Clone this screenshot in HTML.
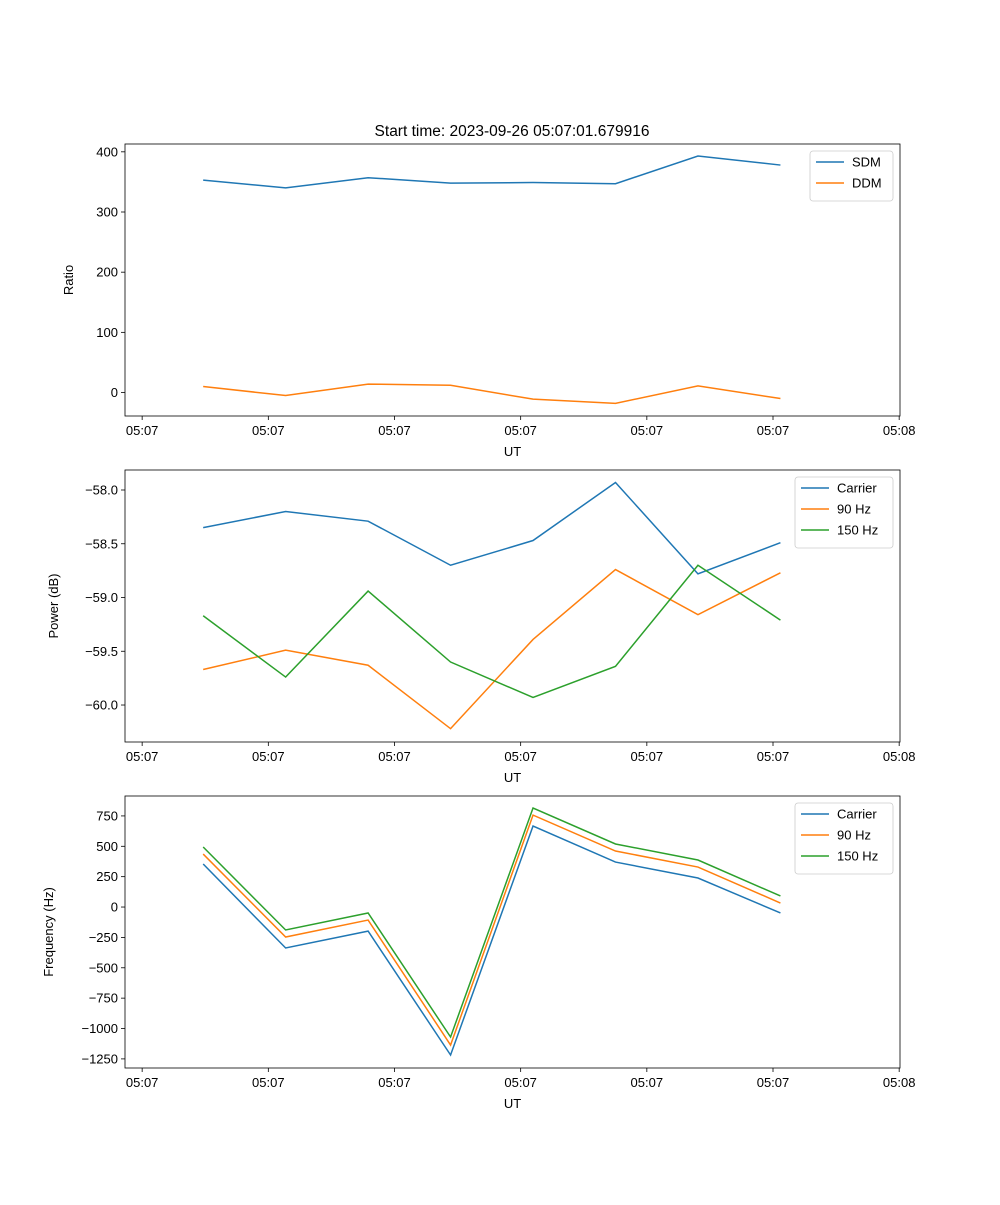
<!DOCTYPE html>
<html><head><meta charset="utf-8"><style>
body{margin:0;background:#fff}
svg text{font-family:"Liberation Sans","DejaVu Sans",sans-serif;font-size:13px;fill:#000}
</style></head><body>
<svg id="fig" width="1000" height="1200" viewBox="0 0 1000 1200" xmlns="http://www.w3.org/2000/svg">
<rect width="1000" height="1200" fill="#fff"/>
<text x="512" y="136" text-anchor="middle" style="font-size:15.5px">Start time: 2023-09-26 05:07:01.679916</text>
</svg>
<script>
const xIdx=[0,1,2,3,4,5,6,7];
const xTickLabels=["05:07","05:07","05:07","05:07","05:07","05:07","05:08"];
const xTickVals=[-0.74,0.79,2.32,3.85,5.38,6.91,8.44];
const sdm=[353,340,357,348,349,347,393,378];
const ddm=[10,-5,14,12,-11,-18,11,-10];
const pCarrier=[-58.35,-58.20,-58.29,-58.70,-58.47,-57.93,-58.78,-58.49];
const p90=[-59.67,-59.49,-59.63,-60.22,-59.39,-58.74,-59.16,-58.77];
const p150=[-59.17,-59.74,-58.94,-59.60,-59.93,-59.64,-58.70,-59.21];
const fCarrier=[354,-337,-198,-1218,667,370,239,-49];
const f90=[436,-247,-107,-1136,757,461,329,33];
const f150=[494,-189,-49,-1070,815,519,387,91];
const ticks1=[0,100,200,300,400];
const ticks2=[-60.0,-59.5,-59.0,-58.5,-58.0];
const ticks3=[-1250,-1000,-750,-500,-250,0,250,500,750];
const C=["#1f77b4","#ff7f0e","#2ca02c"];
const svg=document.getElementById('fig');
const NS="http://www.w3.org/2000/svg";
function mk(t,a,p){const e=document.createElementNS(NS,t);for(const k in a)e.setAttribute(k,a[k]);(p||svg).appendChild(e);return e;}
const L=125,R=900,xmin=-0.948,xmax=8.45;
const X=v=>L+(v-xmin)/(xmax-xmin)*(R-L);
function panel(name,top,bot,ymin,ymax,ticks,fmt,ylabel,ylOff,series,names,legW,legX){
  const g=mk('g',{});
  
  
  const Y=v=>bot-(v-ymin)/(ymax-ymin)*(bot-top);
  ticks.forEach(t=>{const y=Y(t);
    mk('line',{x1:L-4,x2:L,y1:y,y2:y,stroke:'#000','stroke-width':0.8},g);
    const tx=mk('text',{x:L-7,y:y+4.5,'text-anchor':'end'},g);tx.textContent=fmt(t);
    
    });
  xTickVals.forEach((t,i)=>{const x=X(t);
    mk('line',{x1:x,x2:x,y1:bot,y2:bot+4,stroke:'#000','stroke-width':0.8},g);
    const tx=mk('text',{x:x,y:bot+19,'text-anchor':'middle'},g);tx.textContent=xTickLabels[i];
    
    });
  const xl=mk('text',{x:(L+R)/2,y:bot+40,'text-anchor':'middle'},g);xl.textContent='UT';
  
  
  const yl=mk('text',{x:0,y:0,'text-anchor':'middle',transform:`translate(${L-ylOff},${(top+bot)/2}) rotate(-90)`},g);yl.textContent=ylabel;
  
  
  series.forEach((s,i)=>{const pl=mk('polyline',{points:s.map((v,j)=>X(xIdx[j])+','+Y(v)).join(' '),fill:'none',stroke:C[i],'stroke-width':1.5},g);
    
    });
  mk('rect',{x:L,y:top,width:R-L,height:bot-top,fill:'none',stroke:'#000','stroke-width':0.8},g);
  const lg=mk('g',{},g);
  
  
  mk('rect',{x:legX,y:top+7,width:legW,height:8+names.length*21,rx:3,fill:'#fff',stroke:'#ccc','stroke-width':0.8},lg);
  names.forEach((n,i)=>{const y=top+18+i*21;
    mk('line',{x1:legX+6,x2:legX+34,y1:y,y2:y,stroke:C[i],'stroke-width':1.5},lg);
    const t=mk('text',{x:legX+42,y:y+4.5},lg);t.textContent=n;
    
    });
}
panel('ratio-panel',144,416,-39,413,ticks1,v=>String(v),'Ratio',52,[sdm,ddm],['SDM','DDM'],83,810);
panel('power-panel',470,742,-60.344,-57.814,ticks2,v=>(v<0?'\u2212':'')+Math.abs(v).toFixed(1),'Power (dB)',67,[pCarrier,p90,p150],['Carrier','90 Hz','150 Hz'],98,795);
panel('frequency-panel',796,1068,-1325,914,ticks3,v=>(v<0?'\u2212':'')+Math.abs(v),'Frequency (Hz)',72,[fCarrier,f90,f150],['Carrier','90 Hz','150 Hz'],98,795);
</script>
</body></html>
